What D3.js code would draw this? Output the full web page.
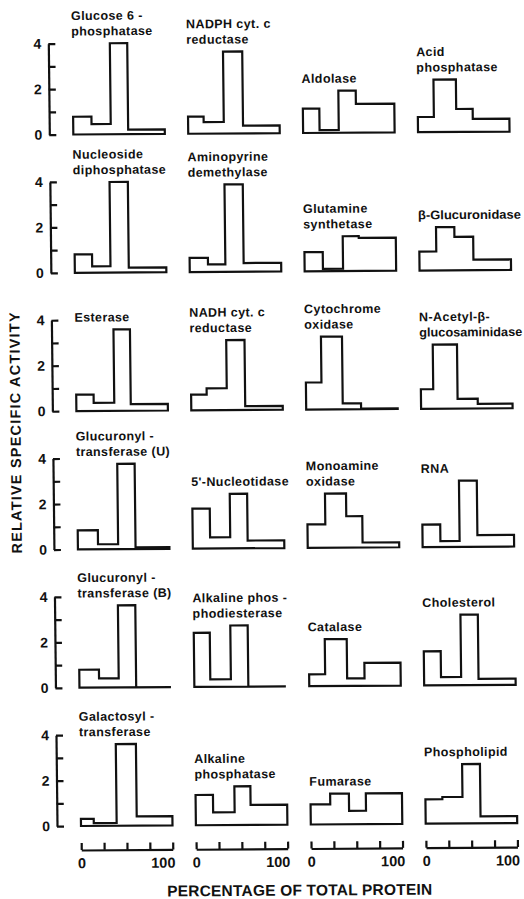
<!DOCTYPE html>
<html><head><meta charset="utf-8">
<script src="https://cdn.jsdelivr.net/npm/d3@7/dist/d3.min.js"></script>
<style>body{margin:0;background:#fff}svg{display:block}</style>
</head><body><svg id="c" width="524" height="899"></svg>
<script>
// ---- data (row by row, 4 panels per row) ----
const panelTitles = [
  "Glucose 6 -\nphosphatase", "NADPH cyt. c\nreductase", "Aldolase", "Acid\nphosphatase",
  "Nucleoside\ndiphosphatase", "Aminopyrine\ndemethylase", "Glutamine\nsynthetase", "β-Glucuronidase",
  "Esterase", "NADH cyt. c\nreductase", "Cytochrome\noxidase", "N-Acetyl-β-\nglucosaminidase",
  "Glucuronyl -\ntransferase (U)", "5'-Nucleotidase", "Monoamine\noxidase", "RNA",
  "Glucuronyl -\ntransferase (B)", "Alkaline phos -\nphodiesterase", "Catalase", "Cholesterol",
  "Galactosyl -\ntransferase", "Alkaline\nphosphatase", "Fumarase", "Phospholipid"
];
// cumulative percentage of total protein at fraction boundaries
const proteinBounds = [
  [0,20,41,60,100],   [0,17,39,60,100],   [0,18,39,58,100],     [0,17.5,42,60,100],
  [0,19,39,59,100],   [0,20,39,59,100],   [0,20,42,59.5,100],   [0,18.5,38.5,59,100],
  [0,19,41.5,59.5,100],[0,17,39,59,100],  [0,17,40,60,100],     [0,13.5,40,62,100],
  [0,22,44,63,100],   [0,19,41,60,100],   [0,19.5,42.5,60,100], [0,19.5,40.5,60,100],
  [0,21.5,43,62,100], [0,17.5,40,59,100], [0,17.5,41.5,60.5,100],[0,18.5,40.5,59.5,100],
  [0,14,39,61,100],   [0,19,42.5,60,100], [0,21.5,42,60.5,100], [0,18.5,40.5,60,100]
];
// relative specific activity of each fraction
const activity = [
  [0.78,0.45,4.0,0.2],  [0.75,0.51,3.6,0.34], [1.07,0.12,1.85,1.26], [0.67,2.31,1.01,0.57],
  [0.81,0.28,3.98,0.21],[0.62,0.33,3.84,0.38],[0.84,0.1,1.53,1.45],  [0.83,1.9,1.47,0.46],
  [0.72,0.36,3.58,0.29],[0.69,0.96,3.08,0.17],[1.19,3.2,0.26,0.03],  [0.86,2.82,0.43,0.2],
  [0.84,0.22,3.75,0.07],[1.76,0.49,2.4,0.34], [1.03,2.38,1.38,0.22], [0.99,0.26,2.91,0.51],
  [0.79,0.4,3.61,0.0],  [2.38,0.33,2.69,0.0], [0.52,2.06,0.33,1.01], [1.5,0.36,3.1,0.27],
  [0.31,0.12,3.59,0.41],[1.33,0.56,1.7,0.88], [0.88,1.35,0.59,1.35], [1.07,1.17,2.61,0.31]
];
const xTickValues = [0,25,50,75,100];
const xTickLabels = {0:"0", 100:"100"};
const yTickValues = [0,1,2,3,4];
const yTickLabels = {0:"0", 2:"2", 4:"4"};
const xTitle = "PERCENTAGE OF TOTAL PROTEIN";
const yTitle = "RELATIVE SPECIFIC ACTIVITY";

// ---- layout ----
const W = 524, H = 899;
const nCols = 4, nRows = 6;
const colLeft0 = 81, colStep = 114.9, panelW = 91.5;
const rowBase0 = 134.5, rowStep = 138.3, plotH = 91;
const yAxisX = 57, xAxisY = 850;
const maxTitleW = 103;
const FONT = "'Liberation Sans', Arial, sans-serif";
const INK = "#111";

const svg = d3.select("#c");
svg.append("rect").attr("width", W).attr("height", H).attr("fill", "#fff");
// slight skew of the scanned original
const g = svg.append("g").attr("transform", "matrix(1,-0.0066,0.0111,1,-9.17,0.53)");

const x = d3.scaleLinear().domain([0,100]).range([0, panelW]);
const y = d3.scaleLinear().domain([0,4]).range([0, -plotH]);
const line = d3.line().x(d => x(d[0])).y(d => y(d[1])).curve(d3.curveLinear);

panelTitles.forEach((title, i) => {
  const r = Math.floor(i / nCols), c = i % nCols;
  const pg = g.append("g")
    .attr("transform", `translate(${colLeft0 + c*colStep},${rowBase0 + r*rowStep})`);
  const b = proteinBounds[i], a = activity[i];
  const pts = [[b[0], 0]];
  a.forEach((v, k) => { pts.push([b[k], v]); pts.push([b[k+1], v]); });
  pts.push([b[b.length-1], 0]);
  pg.append("path")
    .attr("d", line(pts) + "Z")
    .attr("fill", "none").attr("stroke", INK)
    .attr("stroke-width", 2.2).attr("stroke-linejoin", "miter");

  const lines = title.split("\n");
  const baseY = y(d3.max(a)) - 8;
  lines.forEach((s, k) => {
    const t = pg.append("text")
      .attr("x", -1).attr("y", baseY - (lines.length - 1 - k) * 15.5)
      .attr("font-family", FONT).attr("font-weight", "bold")
      .attr("font-size", 12.5).attr("letter-spacing", 0.4).attr("fill", INK).text(s);
    const len = t.node().getComputedTextLength();
    if (len > maxTitleW) {
      t.attr("letter-spacing", 0).attr("textLength", maxTitleW)
       .attr("lengthAdjust", "spacingAndGlyphs");
    }
  });
});

// y axes (first column of each row)
for (let r = 0; r < nRows; r++) {
  const ax = g.append("g")
    .attr("transform", `translate(${yAxisX},${rowBase0 + r*rowStep})`)
    .call(d3.axisLeft(y).tickValues(yTickValues).tickSize(-7).tickSizeOuter(0)
      .tickPadding(7).tickFormat(d => yTickLabels[d] || ""));
  ax.selectAll("path,line").attr("stroke", INK).attr("stroke-width", 2.2);
  ax.selectAll("text").attr("font-family", FONT).attr("font-weight", "bold")
    .attr("font-size", 14).attr("fill", INK);
}

// x axes (bottom of each column)
for (let c = 0; c < nCols; c++) {
  const ax = g.append("g")
    .attr("transform", `translate(${colLeft0 + c*colStep},${xAxisY})`)
    .call(d3.axisBottom(x).tickValues(xTickValues).tickSize(-7).tickSizeOuter(0)
      .tickPadding(8).tickFormat(d => xTickLabels[d] || ""));
  ax.selectAll("path,line").attr("stroke", INK).attr("stroke-width", 2.2);
  ax.selectAll("text").attr("font-family", FONT).attr("font-weight", "bold")
    .attr("font-size", 14.5).attr("fill", INK);
  ax.selectAll(".tick text").filter(d => d === 100)
    .attr("text-anchor", "end").attr("x", 2);
}

// axis titles
g.append("text").attr("x", 299).attr("y", 897)
  .attr("text-anchor", "middle").attr("font-family", FONT).attr("font-weight", "bold")
  .attr("font-size", 15.5).attr("letter-spacing", 0.2).attr("fill", INK).text(xTitle);
g.append("text").attr("transform", "translate(25,432) rotate(-90)")
  .attr("text-anchor", "middle").attr("font-family", FONT).attr("font-weight", "bold")
  .attr("font-size", 14.5).attr("letter-spacing", 1.2).attr("fill", INK).text(yTitle);
</script></body></html>
